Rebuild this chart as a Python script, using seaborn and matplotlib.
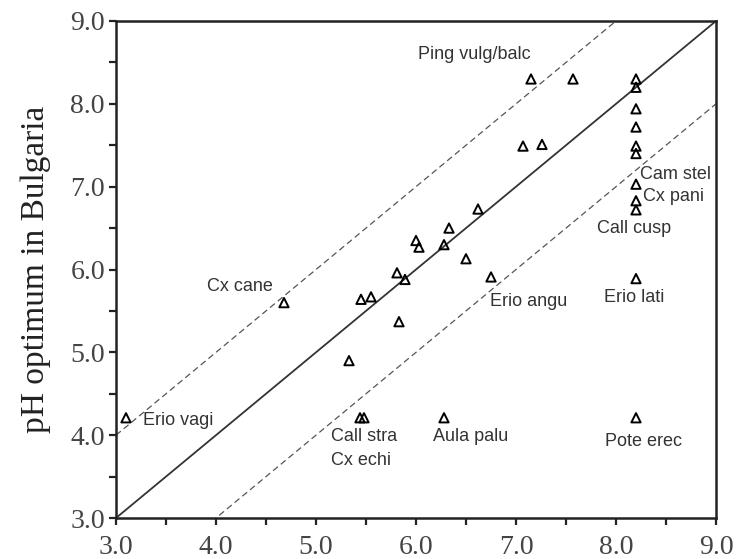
import matplotlib
matplotlib.use("Agg")
import matplotlib.pyplot as plt
import seaborn as sns
import pandas as pd
import numpy as np

# Species pH optima (x: reference pH optimum, y: pH optimum in Bulgaria)
x_vals = [3.10, 4.68, 5.33, 5.44, 5.48, 5.45, 5.55, 5.83, 5.81, 5.89, 6.00,
          6.03, 6.28, 6.33, 6.50, 6.62, 6.75, 6.28, 7.07, 7.26, 7.15, 7.57,
          8.20, 8.20, 8.20, 8.20, 8.20, 8.20, 8.20, 8.20, 8.20, 8.20, 8.20]
y_vals = [4.21, 5.60, 4.90, 4.21, 4.21, 5.64, 5.67, 5.37, 5.96, 5.88, 6.35,
          6.27, 6.30, 6.50, 6.13, 6.73, 5.91, 4.21, 7.49, 7.51, 8.30, 8.30,
          8.30, 8.20, 7.94, 7.72, 7.49, 7.40, 7.03, 6.83, 6.72, 5.89, 4.21]

label_texts = ["Ping vulg/balc", "Cx cane", "Erio vagi", "Call stra", "Cx echi",
               "Aula palu", "Pote erec", "Erio angu", "Erio lati", "Cam stel",
               "Cx pani", "Call cusp"]
label_x = [6.02, 3.91, 3.27, 5.15, 5.15, 6.17, 7.89, 6.74, 7.88, 8.24, 8.27, 7.81]
label_y = [8.59, 5.79, 4.18, 3.98, 3.69, 3.98, 3.92, 5.61, 5.66, 7.15, 6.88, 6.50]

line_offsets = [0.0, 1.0, -1.0]
tick_vals = [3.0, 4.0, 5.0, 6.0, 7.0, 8.0, 9.0]
tick_labels = ["3.0", "4.0", "5.0", "6.0", "7.0", "8.0", "9.0"]

sns.set_style("white")
plt.rcParams['font.family'] = ['Liberation Serif', 'DejaVu Serif']

fig = plt.figure(figsize=(7.38, 5.59), dpi=100)
ax = fig.add_axes([116/738, 1 - 518/559, 600/738, 497/559])

df = pd.DataFrame({"x": x_vals, "y": y_vals})

# reference lines
base = np.array([3.0, 9.0])
for off in line_offsets:
    if off == 0:
        ax.plot(base, base + off, color="#333333", lw=1.3, zorder=1)
    else:
        ax.plot(base, base + off, color="#555555", lw=0.9,
                dashes=(5, 3), zorder=1)

sns.scatterplot(data=df, x="x", y="y", ax=ax, marker="^", s=45,
                facecolor="none", edgecolor="black", linewidth=1.4, zorder=3)

for t, lx, ly in zip(label_texts, label_x, label_y):
    ax.text(lx, ly, t, ha="left", va="center", fontsize=13,
            family=["Liberation Sans", "DejaVu Sans"], color="#333333")

ax.set_xlim(3.0, 9.0)
ax.set_ylim(3.0, 9.0)
ax.set_xticks(tick_vals)
ax.set_xticklabels(tick_labels)
ax.set_yticks(tick_vals)
ax.set_yticklabels(tick_labels)
ax.set_xticks(np.arange(3.5, 9.0, 1.0), minor=True)
ax.set_yticks(np.arange(3.5, 9.0, 1.0), minor=True)
ax.tick_params(which="both", direction="out", length=5, width=1.6,
               color="#222222", labelsize=20, labelcolor="#444444",
               bottom=True, left=True, top=False, right=False)
ax.tick_params(axis="x", pad=7)
ax.tick_params(axis="y", pad=3)

ax.set_xlabel("")
ax.set_ylabel("pH optimum in Bulgaria", fontsize=24, color="#222222", labelpad=14)

for sp in ax.spines.values():
    sp.set_linewidth(1.8)
    sp.set_color("#222222")
    sp.set_visible(True)

fig.savefig("out.png", dpi=100, facecolor="white")
